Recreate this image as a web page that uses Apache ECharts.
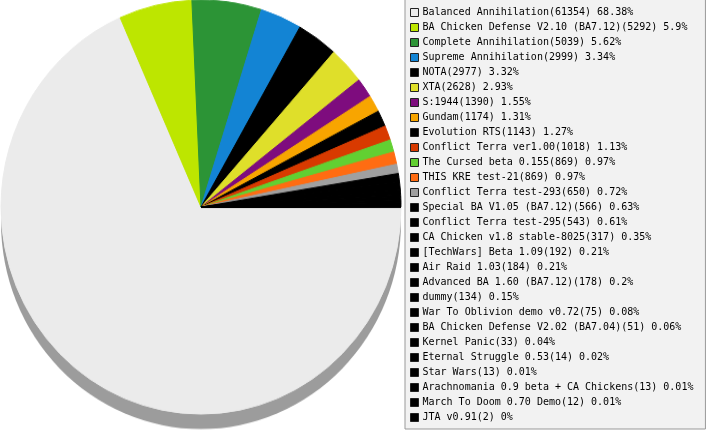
<!DOCTYPE html>
<html><head><meta charset="utf-8">
<script src="https://cdn.jsdelivr.net/npm/echarts@6/dist/echarts.min.js"></script>
<style>
html,body{margin:0;padding:0;background:#fff}
#wrap{position:relative;width:707px;height:430px;overflow:hidden}
#p,#l{position:absolute;left:0;top:0;width:707px;height:430px}
#p{transform:scaleY(1.035);transform-origin:0 207px}
</style>
</head><body><div id="wrap"><div id="p"></div><div id="l"></div></div>
<script>
const names = [
  'Balanced Annihilation', 'BA Chicken Defense V2.10 (BA7.12)', 'Complete Annihilation',
  'Supreme Annihilation', 'NOTA', 'XTA', 'S:1944', 'Gundam', 'Evolution RTS',
  'Conflict Terra ver1.00', 'The Cursed beta 0.155', 'THIS KRE test-21',
  'Conflict Terra test-293', 'Special BA V1.05 (BA7.12)', 'Conflict Terra test-295',
  'CA Chicken v1.8 stable-8025', '[TechWars] Beta 1.09', 'Air Raid 1.03',
  'Advanced BA 1.60 (BA7.12)', 'dummy', 'War To Oblivion demo v0.72',
  'BA Chicken Defense V2.02 (BA7.04)', 'Kernel Panic', 'Eternal Struggle 0.53',
  'Star Wars', 'Arachnomania 0.9 beta + CA Chickens', 'March To Doom 0.70 Demo', 'JTA v0.91'
];
const values = [61354, 5292, 5039, 2999, 2977, 2628, 1390, 1174, 1143, 1018, 869, 869, 650, 566,
  543, 317, 192, 184, 178, 134, 75, 51, 33, 14, 13, 13, 12, 2];
const pcts = ['68.38', '5.9', '5.62', '3.34', '3.32', '2.93', '1.55', '1.31', '1.27', '1.13',
  '0.97', '0.97', '0.72', '0.63', '0.61', '0.35', '0.21', '0.21', '0.2', '0.15', '0.08',
  '0.06', '0.04', '0.02', '0.01', '0.01', '0.01', '0'];
const colors = ['#ebebeb', '#bde600', '#2c9436', '#1384d4', '#000000', '#dfdf2a', '#7e0c7e',
  '#f8a500', '#000000', '#d83a00', '#62d032', '#ff6c12', '#a0a0a0',
  '#000000', '#000000', '#000000', '#000000', '#000000', '#000000', '#000000', '#000000',
  '#000000', '#000000', '#000000', '#000000', '#000000', '#000000', '#000000'];

const total = values.reduce((a, b) => a + b, 0);
const pieData = names.map((n, i) => ({
  name: n, value: values[i],
  itemStyle: {color: colors[i], borderColor: colors[i], borderWidth: 1}
}));

// Pie chart (slightly stretched vertically like the reference)
const pie = echarts.init(document.getElementById('p'), null, {renderer: 'canvas'});
pie.setOption({
  animation: false,
  series: [
    {
      type: 'pie', silent: true, z: 1,
      center: [201, 221.5], radius: 200,
      startAngle: 0, clockwise: true,
      label: {show: false}, labelLine: {show: false},
      data: [{name: 'shadow', value: total, itemStyle: {color: '#9c9c9c'}}]
    },
    {
      type: 'pie', z: 2,
      center: [201, 207], radius: 200,
      startAngle: 0, clockwise: true,
      avoidLabelOverlap: false,
      label: {show: false}, labelLine: {show: false},
      emphasis: {disabled: true},
      data: pieData
    }
  ]
});

// Legend chart (unstretched text)
const leg = echarts.init(document.getElementById('l'), null, {renderer: 'canvas'});
leg.setOption({
  animation: false,
  backgroundColor: 'transparent',
  legend: {
    orient: 'vertical',
    left: 405,
    top: -1,
    data: names,
    icon: 'rect',
    itemWidth: 8,
    itemHeight: 8,
    itemGap: 0,
    padding: [6, 12, 4, 5],
    backgroundColor: '#f2f2f2',
    borderColor: '#999999',
    borderWidth: 1,
    borderRadius: 0,
    selectedMode: false,
    itemStyle: {borderColor: '#222222', borderWidth: 1},
    textStyle: {fontFamily: 'DejaVu Sans Mono', fontSize: 10, color: '#000', lineHeight: 15, padding: [0, 0, 0, -1]},
    formatter: function (name) {
      const i = names.indexOf(name);
      return name + '(' + values[i] + ') ' + pcts[i] + '%';
    }
  },
  series: [{
    type: 'pie', silent: true,
    center: [-500, -500], radius: 1,
    label: {show: false}, labelLine: {show: false},
    data: names.map((n, i) => ({name: n, value: values[i], itemStyle: {color: colors[i]}}))
  }]
});
</script>
</body></html>
